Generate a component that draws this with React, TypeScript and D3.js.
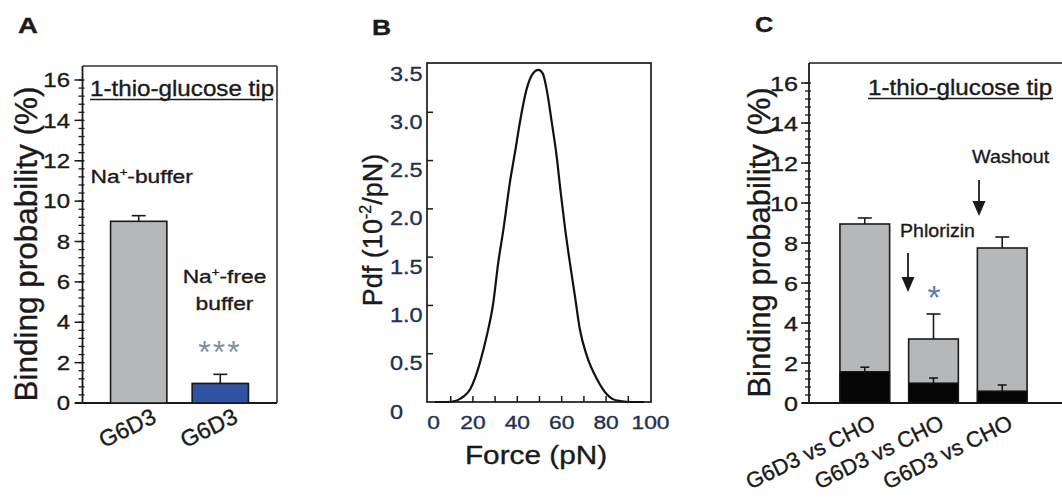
import React from 'react';
import * as d3 from 'd3';

const FONT = '"Liberation Sans", Arial, Helvetica, sans-serif';

// ---------- Panel A data ----------
const aIds = ['naBuffer', 'naFree'];
const aLabels = ['G6D3', 'G6D3'];
const aValues = [9.0, 0.97];
const aErrors = [0.28, 0.45];
const aColors = ['#b5b7b9', '#2f52a3'];
const aYTicks = [0, 2, 4, 6, 8, 10, 12, 14, 16];

// ---------- Panel B data ----------
const bForce = [3, 8, 12, 14, 16, 18.7, 21, 23.2, 26.2, 29.2, 31.4, 33.7, 36.7, 39, 41.2, 44.2, 47, 49.5, 51.5, 53.2, 55.5, 57.7, 59.4, 61.5, 63.7, 66, 68.2, 71.3, 75.8, 80.3, 83, 86.3, 92, 97];
const bPdf = [0, 0, 0.01, 0.03, 0.06, 0.13, 0.25, 0.41, 0.68, 1.03, 1.44, 1.78, 2.28, 2.59, 2.9, 3.24, 3.4, 3.44, 3.4, 3.24, 2.9, 2.55, 2.2, 1.8, 1.44, 1.09, 0.75, 0.48, 0.24, 0.08, 0.03, 0.01, 0, 0];
const bXTicks = [0, 20, 40, 60, 80, 100];
const bXMinor = [10, 20, 30, 40, 50, 60, 70, 80, 90];
const bYTicks = [0.5, 1.0, 1.5, 2.0, 2.5, 3.0];
const bYLabelVals = [0, 0.5, 1.0, 1.5, 2.0, 2.5, 3.0, 3.5];
const bYLabels = ['0', '0.5', '1.0', '1.5', '2.0', '2.5', '3.0', '3.5'];

// ---------- Panel C data ----------
const cIds = ['control', 'phlorizin', 'washout'];
const cLabels = ['G6D3 vs CHO', 'G6D3 vs CHO', 'G6D3 vs CHO'];
const cG6D3 = [8.95, 3.2, 7.75];
const cG6D3Err = [0.3, 1.25, 0.55];
const cCHO = [1.57, 1.0, 0.6];
const cCHOErr = [0.22, 0.25, 0.3];
const cYTicks = [0, 2, 4, 6, 8, 10, 12, 14, 16];

const minorTicks = d3.range(0, 41).map((i) => i * 0.4);

type TProps = {
  x: number; y: number; size: number; sx?: number; anchor?: string;
  rotate?: number; weight?: string | number; fill?: string; children?: React.ReactNode;
  letterSpacing?: number; sw?: number;
};
const T = ({ x, y, size, sx = 1, anchor = 'start', rotate = 0, weight = 'normal', fill = '#1a1a1a', children, letterSpacing, sw = 0.35 }: TProps) => (
  <text
    transform={`translate(${x},${y}) rotate(${rotate}) scale(${sx},1)`}
    fontSize={size}
    fontFamily={FONT}
    textAnchor={anchor as any}
    fontWeight={weight as any}
    fill={fill}
    stroke={fill}
    strokeWidth={sw}
    letterSpacing={letterSpacing}
  >
    {children}
  </text>
);

const STROKE = '#1a1a1a';

function PanelA() {
  const y = d3.scaleLinear().domain([0, 16]).range([403, 80]);
  const x = d3.scaleBand<string>().domain(aIds).range([82, 277]).paddingInner(0.31).paddingOuter(0.35);
  const axX = 82.5;
  const bw = x.bandwidth();
  return (
    <g>
      <T x={18} y={33} size={22} weight="bold" sx={1.25}>A</T>
      <line x1={axX} x2={277} y1={66} y2={66} stroke="#333" strokeWidth={1.6} />
      <line x1={277} x2={277} y1={66} y2={403} stroke="#333" strokeWidth={1.6} />
      <line x1={axX} x2={axX} y1={66} y2={403} stroke={STROKE} strokeWidth={1.8} />
      <line x1={75} x2={277} y1={403} y2={403} stroke={STROKE} strokeWidth={1.8} />
      {minorTicks.map((t) => (
        <line key={'m' + t} x1={axX - 4} x2={axX + 2} y1={y(t)} y2={y(t)} stroke={STROKE} strokeWidth={1.3} />
      ))}
      {aYTicks.map((t) => (
        <g key={'t' + t}>
          <line x1={axX - 8} x2={axX + 1} y1={y(t)} y2={y(t)} stroke={STROKE} strokeWidth={1.5} />
          <T x={70} y={y(t) + 7.2} size={20} sx={1.2} anchor="end">{t}</T>
        </g>
      ))}
      {aIds.map((id, i) => {
        const x0 = x(id)!;
        const cx = x0 + bw / 2;
        return (
          <g key={id}>
            <line x1={cx} x2={cx} y1={y(aValues[i])} y2={y(aValues[i] + aErrors[i])} stroke={STROKE} strokeWidth={1.6} />
            <line x1={cx - 7} x2={cx + 7} y1={y(aValues[i] + aErrors[i])} y2={y(aValues[i] + aErrors[i])} stroke={STROKE} strokeWidth={1.6} />
            <rect x={x0} y={y(aValues[i])} width={bw} height={y(0) - y(aValues[i])} fill={aColors[i]} stroke={STROKE} strokeWidth={1.6} />
            <T x={cx + 19} y={422} size={23} rotate={-26} anchor="end">{aLabels[i]}</T>
          </g>
        );
      })}
      <T x={90} y={95.5} size={22} sx={1.1}>1-thio-glucose tip</T>
      <line x1={90} x2={273} y1={99.5} y2={99.5} stroke={STROKE} strokeWidth={1.4} />
      <text transform="translate(90.5,183.3) scale(1.2,1)" fontSize={19} fontFamily={FONT} fill="#1a1a1a" stroke="#1a1a1a" strokeWidth={0.35}>
        Na<tspan fontSize={11} dy={-7}>+</tspan><tspan dy={7}>-buffer</tspan>
      </text>
      <text transform="translate(224.5,283.3) scale(1.2,1)" fontSize={19} fontFamily={FONT} fill="#1a1a1a" stroke="#1a1a1a" strokeWidth={0.35} textAnchor="middle">
        Na<tspan fontSize={11} dy={-7}>+</tspan><tspan dy={7}>-free</tspan>
      </text>
      <T x={224.5} y={310} size={19} sx={1.2} anchor="middle">buffer</T>
      <T x={220} y={363} size={32} anchor="middle" fill="#7f8ea6" letterSpacing={2} sw={0}>***</T>
      <T x={37} y={244} size={31.5} rotate={-90} anchor="middle">Binding probability (%)</T>
    </g>
  );
}

function PanelB() {
  const x = d3.scaleLinear().domain([0, 100]).range([428.5, 650.5]);
  const y = d3.scaleLinear().domain([0, 3.5]).range([402, 64]);
  const pts: [number, number][] = bForce.map((f, i) => [f, bPdf[i]]);
  const line = d3.line<[number, number]>().x((d) => x(d[0])).y((d) => y(d[1])).curve(d3.curveMonotoneX);
  return (
    <g>
      <T x={372} y={35} size={22} weight="bold" sx={1.2}>B</T>
      <rect x={427} y={63} width={224} height={339} fill="none" stroke={STROKE} strokeWidth={1.7} />
      {bXMinor.map((t) => (
        <line key={'bx' + t} x1={x(t)} x2={x(t)} y1={402} y2={396} stroke={STROKE} strokeWidth={1.5} />
      ))}
      {bYTicks.map((t) => (
        <line key={'by' + t} x1={427} x2={433} y1={y(t)} y2={y(t)} stroke={STROKE} strokeWidth={1.5} />
      ))}
      {bYLabelVals.map((v, i) => (
        <T key={'byl' + i} x={390} y={y(v) + 9 + 7.5} size={21} sx={1.12} fill="#1d3152">{bYLabels[i]}</T>
      ))}
      {bXTicks.map((t) => (
        <T key={'bxl' + t} x={x(t) + (t === 0 ? 5 : 0)} y={428.5} size={19} sx={1.2} anchor="middle" fill="#1d3152">{t}</T>
      ))}
      <path d={line(pts) || ''} fill="none" stroke="#111" strokeWidth={2.2} />
      <T x={536} y={463.5} size={25} sx={1.19} anchor="middle">Force (pN)</T>
      <text transform="translate(382,230) rotate(-90)" fontSize={27} fontFamily={FONT} fill="#1a1a1a" stroke="#1a1a1a" strokeWidth={0.35} textAnchor="middle">
        Pdf (10<tspan fontSize={16} dy={-11}>-2</tspan><tspan dy={11}>/pN)</tspan>
      </text>
    </g>
  );
}

function PanelC() {
  const y = d3.scaleLinear().domain([0, 16]).range([403, 83]);
  const x = d3.scaleBand<string>().domain(cIds).range([809, 1058]).paddingInner(0.277).paddingOuter(0.45);
  const axX = 809;
  const bw = x.bandwidth();
  return (
    <g>
      <T x={755} y={32} size={22} weight="bold" sx={1.15}>C</T>
      <line x1={axX} x2={1062} y1={63} y2={63} stroke={STROKE} strokeWidth={1.7} />
      <line x1={axX} x2={axX} y1={63} y2={403} stroke={STROKE} strokeWidth={1.8} />
      <line x1={802} x2={1062} y1={403} y2={403} stroke={STROKE} strokeWidth={1.8} />
      {minorTicks.map((t) => (
        <line key={'m' + t} x1={axX - 4} x2={axX + 2} y1={y(t)} y2={y(t)} stroke={STROKE} strokeWidth={1.3} />
      ))}
      {cYTicks.map((t) => (
        <g key={'t' + t}>
          <line x1={axX - 8} x2={axX + 1} y1={y(t)} y2={y(t)} stroke={STROKE} strokeWidth={1.5} />
          <T x={798} y={y(t) + 7.5} size={21} sx={1.2} anchor="end">{t}</T>
        </g>
      ))}
      {cIds.map((id, i) => {
        const x0 = x(id)!;
        const cx = x0 + bw / 2;
        const top = cG6D3[i];
        const topE = top + cG6D3Err[i];
        const blk = cCHO[i];
        const blkE = blk + cCHOErr[i];
        return (
          <g key={id}>
            <line x1={cx} x2={cx} y1={y(top)} y2={y(topE)} stroke={STROKE} strokeWidth={1.6} />
            <line x1={cx - 7} x2={cx + 7} y1={y(topE)} y2={y(topE)} stroke={STROKE} strokeWidth={1.6} />
            <rect x={x0} y={y(top)} width={bw} height={y(0) - y(top)} fill="#b5b7b9" stroke={STROKE} strokeWidth={1.6} />
            <line x1={cx} x2={cx} y1={y(blk)} y2={y(blkE)} stroke={STROKE} strokeWidth={1.6} />
            <line x1={cx - 4.5} x2={cx + 4.5} y1={y(blkE)} y2={y(blkE)} stroke={STROKE} strokeWidth={1.6} />
            <rect x={x0} y={y(blk)} width={bw} height={y(0) - y(blk)} fill="#050505" stroke={STROKE} strokeWidth={1.2} />
            <T x={cx + 12} y={428} size={22} rotate={-26} anchor="end">{cLabels[i]}</T>
          </g>
        );
      })}
      <T x={868} y={95} size={22} sx={1.1}>1-thio-glucose tip</T>
      <line x1={868} x2={1053} y1={98.5} y2={98.5} stroke={STROKE} strokeWidth={1.4} />
      <T x={972} y={163.3} size={19} sx={1.04}>Washout</T>
      <line x1={979} x2={979} y1={180} y2={203} stroke={STROKE} strokeWidth={1.8} />
      <path d={`M972.5,201 L985.5,201 L979,216 Z`} fill={STROKE} />
      <T x={900} y={237.3} size={19} sx={1.03}>Phlorizin</T>
      <line x1={908} x2={908} y1={253} y2={279} stroke={STROKE} strokeWidth={1.8} />
      <path d={`M901.5,277 L914.5,277 L908,292 Z`} fill={STROKE} />
      <T x={934} y={309} size={34} anchor="middle" fill="#5d7fb3" sw={0}>*</T>
      <T x={770} y={242.5} size={31} rotate={-90} anchor="middle">Binding probability (%)</T>
    </g>
  );
}

export default function App() {
  return (
    <svg
      width={1062}
      height={499}
      viewBox="0 0 1062 499"
      style={{ position: 'absolute', left: 0, top: 0, background: '#fff' }}
    >
      <rect x={0} y={0} width={1062} height={499} fill="#fff" />
      <PanelA />
      <PanelB />
      <PanelC />
    </svg>
  );
}
